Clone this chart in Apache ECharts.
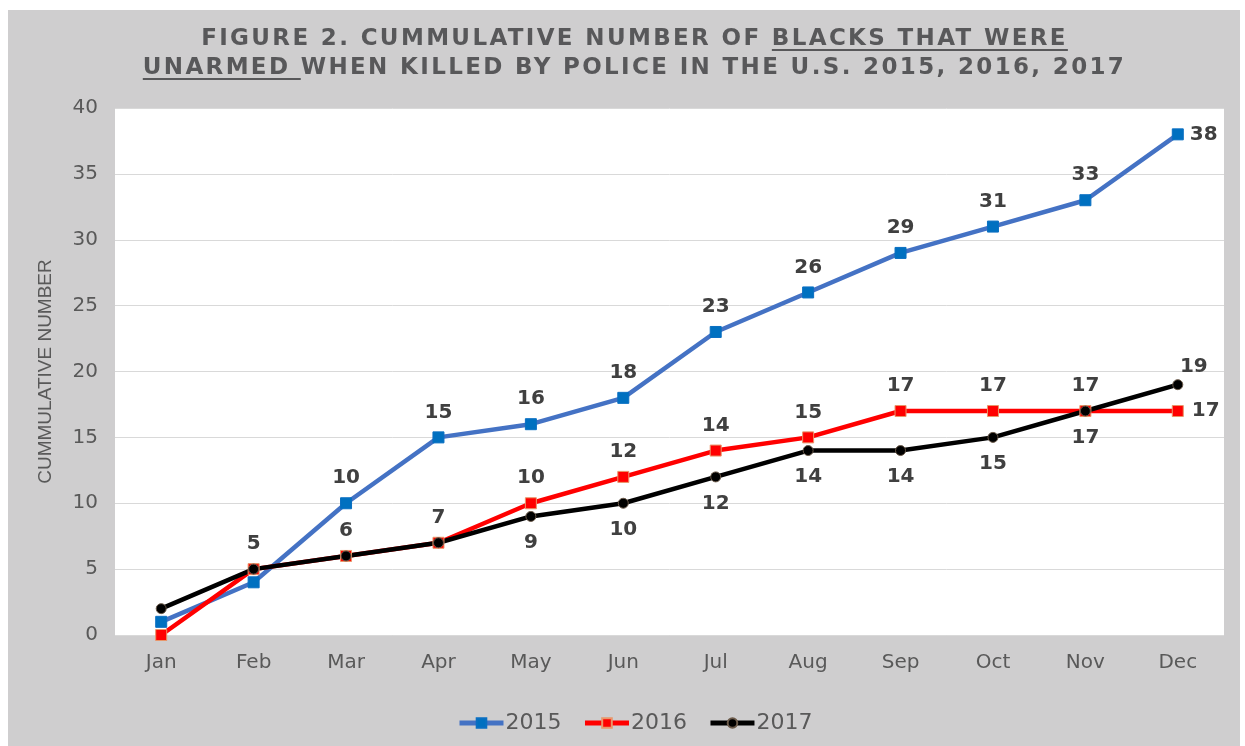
<!DOCTYPE html>
<html>
<head>
<meta charset="utf-8">
<script src="https://cdn.jsdelivr.net/npm/echarts@6/dist/echarts.min.js"></script>
<style>
  html, body { margin: 0; padding: 0; background: #ffffff; }
  #bg { position: absolute; left: 8px; top: 10px; width: 1232px; height: 736px; background: #cfcecf; }
  #chart { position: absolute; left: 0; top: 0; width: 1245px; height: 746px; }
  #title { position: absolute; left: 12px; top: 23px; width: 1245px; text-align: center;
    font-family: "DejaVu Sans", sans-serif; font-weight: bold; font-size: 23px; line-height: 29px;
    color: #58585a; letter-spacing: 2.35px; }
  #title u { text-decoration-thickness: 2px; text-underline-offset: 4px; }
</style>
</head>
<body>
<div id="bg"></div>
<div id="chart"></div>
<div id="title">FIGURE 2. CUMMULATIVE NUMBER OF <u>BLACKS THAT WERE</u><br><u>UNARMED </u>WHEN KILLED BY POLICE IN THE U.S. 2015, 2016, 2017</div>
<script>
const months = ['Jan','Feb','Mar','Apr','May','Jun','Jul','Aug','Sep','Oct','Nov','Dec'];
const seriesNames = ['2015','2016','2017'];
const values2015 = [1, 4, 10, 15, 16, 18, 23, 26, 29, 31, 33, 38];
const values2016 = [0, 5, 6, 7, 10, 12, 14, 15, 17, 17, 17, 17];
const values2017 = [2, 5, 6, 7, 9, 10, 12, 14, 14, 15, 17, 19];
// label placement per point: null = no label
const labelPos2015 = [null, null, 'top','top','top','top','top','top','top','top','top','right'];
const labelPos2016 = [null, 'top','top','top','top','top','top','top','top','top','top','right'];
const labelPos2017 = [null, null, null, null, 'bottom','bottom','bottom','bottom','bottom','bottom','bottom','topR'];

const labelBase = { fontFamily: 'DejaVu Sans', fontWeight: 'bold', fontSize: 20, color: '#404040' };

function buildData(values, positions, rightDist) {
  return values.map((v, i) => {
    const p = positions[i];
    if (!p) return { value: v, label: { show: false } };
    let lab;
    if (p === 'top') lab = { position: 'top', distance: 9 };
    else if (p === 'bottom') lab = { position: 'bottom', distance: 11 };
    else if (p === 'right') lab = { position: 'right', distance: rightDist };
    else lab = { position: 'top', distance: 2, offset: [16, 0] };
    return { value: v, label: Object.assign({ show: true }, labelBase, lab) };
  });
}

const chart = echarts.init(document.getElementById('chart'), null, { renderer: 'canvas' });
chart.setOption({
  animation: false,
  grid: { left: 115, right: 21, top: 108, bottom: 111, show: true, backgroundColor: '#ffffff', borderWidth: 0, containLabel: false },
  legend: {
    bottom: 12, left: 457, padding: 0, itemWidth: 44, itemHeight: 12, itemGap: 21,
    lineStyle: { width: 5 },
    textStyle: { fontFamily: 'DejaVu Sans', fontSize: 22, color: '#595959', padding: [0, 0, 0, -3] },
    data: seriesNames
  },
  xAxis: {
    type: 'category', data: months, boundaryGap: true,
    axisLine: { show: false }, axisTick: { show: false },
    axisLabel: { fontFamily: 'DejaVu Sans', fontSize: 20, color: '#595959', margin: 18 }
  },
  yAxis: {
    type: 'value', min: 0, max: 40, interval: 5,
    name: 'CUMMULATIVE NUMBER', nameLocation: 'middle', nameGap: 60, nameRotate: 90,
    nameTextStyle: { fontFamily: 'Liberation Sans', fontSize: 19, color: '#595959' },
    axisLine: { show: false }, axisTick: { show: false },
    axisLabel: { fontFamily: 'DejaVu Sans', fontSize: 20, color: '#595959', margin: 17 },
    splitLine: { lineStyle: { color: '#d9d9d9', width: 1 } }
  },
  series: [
    {
      name: seriesNames[0], type: 'line', clip: false,
      data: buildData(values2015, labelPos2015, 6),
      symbol: 'rect', symbolSize: 11,
      lineStyle: { color: '#4472c4', width: 4.5 },
      itemStyle: { color: '#0070c0', borderColor: '#0a6fc2', borderWidth: 1 }
    },
    {
      name: seriesNames[1], type: 'line', clip: false,
      data: buildData(values2016, labelPos2016, 8),
      symbol: 'rect', symbolSize: 11,
      lineStyle: { color: '#ff0000', width: 4.5 },
      itemStyle: { color: '#ff0000', borderColor: '#e9966a', borderWidth: 1 }
    },
    {
      name: seriesNames[2], type: 'line', clip: false,
      data: buildData(values2017, labelPos2017, 6),
      symbol: 'circle', symbolSize: 10,
      lineStyle: { color: '#000000', width: 4.5 },
      itemStyle: { color: '#000000', borderColor: '#6b5a4a', borderWidth: 1 }
    }
  ]
});
</script>
</body>
</html>
